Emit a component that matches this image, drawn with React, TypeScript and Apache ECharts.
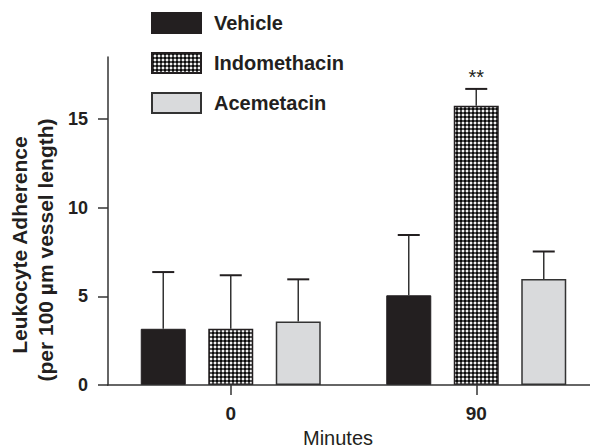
import React, { useEffect, useRef } from "react";
import * as echarts from "echarts";

const categories = ["0", "90"];
const seriesNames = ["Vehicle", "Indomethacin", "Acemetacin"];
const vehicleMean = [3.17, 5.06];
const vehicleSem = [3.2, 3.4];
const indoMean = [3.17, 15.75];
const indoSem = [3.02, 0.95];
const acemMean = [3.58, 5.98];
const acemSem = [2.38, 1.55];
const indoNotes = ["", "**"];
const yTicks = [0, 5, 10, 15];
const yMax = 18.5;

const FONT = '"Liberation Sans", Arial, Helvetica, sans-serif';
const INK = "#231f20";

function makePattern() {
  const c = document.createElement("canvas");
  c.width = 4;
  c.height = 4;
  const ctx = c.getContext("2d")!;
  ctx.fillStyle = "#505050";
  ctx.fillRect(0, 0, 4, 4);
  ctx.fillStyle = "#0a0a0a";
  ctx.fillRect(0, 0, 2, 2);
  ctx.fillStyle = "#f2f2f2";
  ctx.fillRect(2, 2, 2, 2);
  return { image: c, repeat: "repeat", imageWidth: 4, imageHeight: 4 } as any;
}

const BAR_W = 45;
const GAP = 22.5;
const OFFSETS = [-(BAR_W + GAP), 0, BAR_W + GAP];

function errSeries(name: string, means: number[], sems: number[], offset: number, notes?: string[]) {
  return {
    type: "custom",
    name,
    silent: true,
    z: 5,
    data: means.map((m, i) => [i, m, m + sems[i]]),
    renderItem: (params: any, api: any) => {
      const base = api.coord([api.value(0), api.value(1)]);
      const top = api.coord([api.value(0), api.value(2)]);
      const x = base[0] + offset;
      const children: any[] = [
        { type: "line", shape: { x1: x, y1: base[1], x2: x, y2: top[1] }, style: { stroke: "#333", lineWidth: 1.5 } },
        { type: "line", shape: { x1: x - 11, y1: top[1], x2: x + 11, y2: top[1] }, style: { stroke: INK, lineWidth: 2 } },
      ];
      const note = notes ? notes[params.dataIndex] : "";
      if (note) {
        children.push({
          type: "text",
          x,
          y: top[1] - 2,
          style: { text: note, align: "center", verticalAlign: "bottom", font: `20px ${FONT}`, fill: INK },
        });
      }
      return { type: "group", children };
    },
  };
}

export default function App() {
  const ref = useRef<HTMLDivElement>(null);
  useEffect(() => {
    if (!ref.current) return;
    const chart = echarts.init(ref.current, null, { renderer: "svg" });
    const pattern = makePattern();
    const option: any = {
      animation: false,
      backgroundColor: "#ffffff",
      grid: { left: 108, top: 57, width: 492, height: 328, containLabel: false },
      legend: {
        orient: "vertical",
        left: 151,
        top: 12,
        padding: 0,
        itemWidth: 49,
        itemHeight: 20,
        itemGap: 18,
        icon: "rect",
        data: seriesNames,
        textStyle: { fontFamily: FONT, fontWeight: "bold", fontSize: 20, color: INK, padding: [0, 0, 0, 8] },
      },
      xAxis: {
        type: "category",
        data: categories,
        axisLine: { show: false },
        axisTick: { show: true, alignWithLabel: true, length: 10, lineStyle: { color: "#333", width: 1.5 } },
        axisLabel: { margin: 19, fontFamily: FONT, fontWeight: "bold", fontSize: 19, color: INK },
      },
      yAxis: {
        type: "value",
        min: 0,
        max: yMax,
        interval: 5,
        splitLine: { show: false },
        axisLine: { show: true, lineStyle: { color: "#333", width: 1.5 } },
        axisTick: { show: true, length: 10, customValues: yTicks, lineStyle: { color: "#333", width: 1.5 } },
        axisLabel: { customValues: yTicks, margin: 20, fontFamily: FONT, fontWeight: "bold", fontSize: 18, color: INK },
      },
      series: [
        {
          type: "bar",
          name: seriesNames[0],
          data: vehicleMean,
          barWidth: BAR_W,
          barGap: "50%",
          itemStyle: { color: INK, borderColor: INK, borderWidth: 1 },
        },
        {
          type: "bar",
          name: seriesNames[1],
          data: indoMean,
          barWidth: BAR_W,
          barGap: "50%",
          itemStyle: { color: pattern, borderColor: INK, borderWidth: 1.5 },
        },
        {
          type: "bar",
          name: seriesNames[2],
          data: acemMean,
          barWidth: BAR_W,
          barGap: "50%",
          itemStyle: { color: "#d9dadc", borderColor: "#333", borderWidth: 1.5 },
        },
        errSeries("errVehicle", vehicleMean, vehicleSem, OFFSETS[0]),
        errSeries("errIndo", indoMean, indoSem, OFFSETS[1], indoNotes),
        errSeries("errAcem", acemMean, acemSem, OFFSETS[2]),
      ],
      graphic: [
        { type: "line", shape: { x1: 107, y1: 385, x2: 590, y2: 385 }, style: { stroke: "#333", lineWidth: 1.5 }, z: 10 },
        {
          type: "text",
          x: 338,
          y: 438,
          style: { text: "Minutes", align: "center", verticalAlign: "middle", font: `20px ${FONT}`, fill: INK },
        },
        {
          type: "text",
          x: 19,
          y: 245,
          rotation: Math.PI / 2,
          style: { text: "Leukocyte Adherence", align: "center", verticalAlign: "middle", font: `bold 21px ${FONT}`, fill: INK },
        },
        {
          type: "text",
          x: 45,
          y: 250,
          rotation: Math.PI / 2,
          style: { text: "(per 100 \u00b5m vessel length)", align: "center", verticalAlign: "middle", font: `bold 21px ${FONT}`, fill: INK },
        },
      ],
    };
    chart.setOption(option);
    return () => chart.dispose();
  }, []);
  return <div ref={ref} style={{ position: "absolute", left: 0, top: 0, width: 599, height: 448 }} />;
}
